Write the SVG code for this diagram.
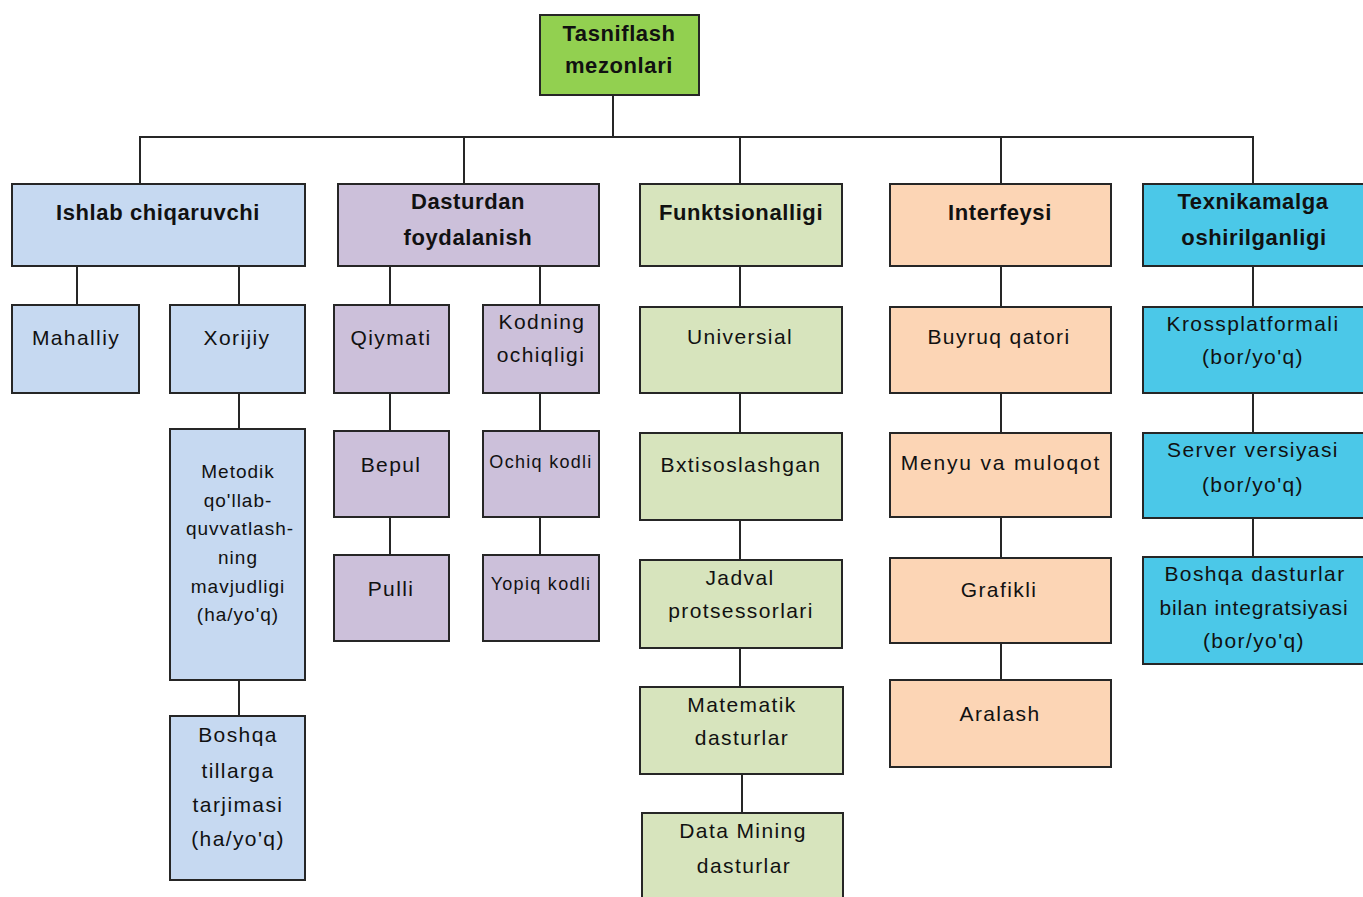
<svg xmlns="http://www.w3.org/2000/svg" width="1363" height="897" viewBox="0 0 1363 897">
<style>
rect{stroke:#262626;stroke-width:2}
.blue{fill:#C6D9F1}.purple{fill:#CCC0DA}.green{fill:#D7E4BD}.peach{fill:#FCD5B5}.cyan{fill:#4BC8E8}.root{fill:#92D050}
text{font-family:"Liberation Sans",Arial,sans-serif;text-anchor:middle;fill:#111}
.h{font-weight:bold;font-size:22px;letter-spacing:0.6px}
.t{font-size:21px;letter-spacing:1.4px}
.s{font-size:19px;letter-spacing:1px}
.k{font-size:18px;letter-spacing:1.3px}
#connectors line{stroke:#262626;stroke-width:2}
</style>
<rect x="0" y="0" width="1363" height="897" fill="#fff" style="stroke:none"/>
<g id="connectors">
<line x1="613" y1="95" x2="613" y2="137"/>
<line x1="139" y1="137" x2="1254" y2="137"/>
<line x1="140" y1="137" x2="140" y2="184"/>
<line x1="464" y1="137" x2="464" y2="184"/>
<line x1="740" y1="137" x2="740" y2="184"/>
<line x1="1001" y1="137" x2="1001" y2="184"/>
<line x1="1253" y1="137" x2="1253" y2="184"/>
<line x1="77" y1="266" x2="77" y2="305"/>
<line x1="239" y1="266" x2="239" y2="305"/>
<line x1="239" y1="393" x2="239" y2="429"/>
<line x1="239" y1="680" x2="239" y2="716"/>
<line x1="390" y1="266" x2="390" y2="305"/>
<line x1="540" y1="266" x2="540" y2="305"/>
<line x1="390" y1="393" x2="390" y2="431"/>
<line x1="390" y1="517" x2="390" y2="555"/>
<line x1="540" y1="393" x2="540" y2="431"/>
<line x1="540" y1="517" x2="540" y2="555"/>
<line x1="740" y1="266" x2="740" y2="307"/>
<line x1="740" y1="393" x2="740" y2="433"/>
<line x1="740" y1="520" x2="740" y2="560"/>
<line x1="740" y1="648" x2="740" y2="687"/>
<line x1="742" y1="774" x2="742" y2="813"/>
<line x1="1001" y1="266" x2="1001" y2="307"/>
<line x1="1001" y1="393" x2="1001" y2="433"/>
<line x1="1001" y1="517" x2="1001" y2="558"/>
<line x1="1001" y1="643" x2="1001" y2="680"/>
<line x1="1253" y1="266" x2="1253" y2="307"/>
<line x1="1253" y1="393" x2="1253" y2="433"/>
<line x1="1253" y1="518" x2="1253" y2="557"/>
</g>
<g id="root"><rect class="root" x="540" y="15" width="159" height="80"/><text class="h" x="619" y="41">Tasniflash</text><text class="h" x="619" y="73">mezonlari</text></g>

<g id="ishlab"><rect class="blue" x="12" y="184" width="293" height="82"/><text class="h" x="158" y="220">Ishlab chiqaruvchi</text></g>
<g id="mahalliy"><rect class="blue" x="12" y="305" width="127" height="88"/><text class="t" x="76" y="345">Mahalliy</text></g>
<g id="xorijiy"><rect class="blue" x="170" y="305" width="135" height="88"/><text class="t" x="237" y="345">Xorijiy</text></g>
<g id="metodik"><rect class="blue" x="170" y="429" width="135" height="251"/>
<text class="s" x="238" y="478">Metodik</text><text class="s" x="238" y="507">qo'llab-</text><text class="s" x="240" y="535">quvvatlash-</text><text class="s" x="238" y="564">ning</text><text class="s" x="238" y="593">mavjudligi</text><text class="s" x="238" y="621">(ha/yo'q)</text></g>
<g id="tarjima"><rect class="blue" x="170" y="716" width="135" height="164"/>
<text class="t" x="238" y="742">Boshqa</text><text class="t" x="238" y="778">tillarga</text><text class="t" x="238" y="812">tarjimasi</text><text class="t" x="238" y="846">(ha/yo'q)</text></g>

<g id="dasturdan"><rect class="purple" x="338" y="184" width="261" height="82"/><text class="h" x="468" y="209">Dasturdan</text><text class="h" x="468" y="245">foydalanish</text></g>
<g id="qiymati"><rect class="purple" x="334" y="305" width="115" height="88"/><text class="t" x="391" y="345">Qiymati</text></g>
<g id="kodning"><rect class="purple" x="483" y="305" width="116" height="88"/><text class="t" x="542" y="329">Kodning</text><text class="t" x="541" y="362">ochiqligi</text></g>
<g id="bepul"><rect class="purple" x="334" y="431" width="115" height="86"/><text class="t" x="391" y="472">Bepul</text></g>
<g id="pulli"><rect class="purple" x="334" y="555" width="115" height="86"/><text class="t" x="391" y="596">Pulli</text></g>
<g id="ochiq"><rect class="purple" x="483" y="431" width="116" height="86"/><text class="k" x="541" y="468">Ochiq kodli</text></g>
<g id="yopiq"><rect class="purple" x="483" y="555" width="116" height="86"/><text class="k" x="541" y="590">Yopiq kodli</text></g>

<g id="funk"><rect class="green" x="640" y="184" width="202" height="82"/><text class="h" x="741" y="220">Funktsionalligi</text></g>
<g id="universial"><rect class="green" x="640" y="307" width="202" height="86"/><text class="t" x="740" y="344">Universial</text></g>
<g id="bxtis"><rect class="green" x="640" y="433" width="202" height="87"/><text class="t" x="741" y="472">Bxtisoslashgan</text></g>
<g id="jadval"><rect class="green" x="640" y="560" width="202" height="88"/><text class="t" x="740" y="585">Jadval</text><text class="t" x="741" y="618">protsessorlari</text></g>
<g id="matematik"><rect class="green" x="640" y="687" width="203" height="87"/><text class="t" x="742" y="712">Matematik</text><text class="t" x="742" y="745">dasturlar</text></g>
<g id="datamining"><rect class="green" x="642" y="813" width="201" height="95"/><text class="t" x="743" y="838">Data Mining</text><text class="t" x="744" y="873">dasturlar</text></g>

<g id="interfeys"><rect class="peach" x="890" y="184" width="221" height="82"/><text class="h" x="1000" y="220">Interfeysi</text></g>
<g id="buyruq"><rect class="peach" x="890" y="307" width="221" height="86"/><text class="t" x="999" y="344">Buyruq qatori</text></g>
<g id="menyu"><rect class="peach" x="890" y="433" width="221" height="84"/><text class="t" x="1001" y="470" style="letter-spacing:1.8px">Menyu va muloqot</text></g>
<g id="grafikli"><rect class="peach" x="890" y="558" width="221" height="85"/><text class="t" x="999" y="597">Grafikli</text></g>
<g id="aralash"><rect class="peach" x="890" y="680" width="221" height="87"/><text class="t" x="1000" y="721">Aralash</text></g>

<g id="texnik"><rect class="cyan" x="1143" y="184" width="230" height="82"/><text class="h" x="1253" y="209">Texnikamalga</text><text class="h" x="1254" y="245">oshirilganligi</text></g>
<g id="kross"><rect class="cyan" x="1143" y="307" width="230" height="86"/><text class="t" x="1253" y="331">Krossplatformali</text><text class="t" x="1253" y="364">(bor/yo'q)</text></g>
<g id="server"><rect class="cyan" x="1143" y="433" width="230" height="85"/><text class="t" x="1253" y="457">Server versiyasi</text><text class="t" x="1253" y="492">(bor/yo'q)</text></g>
<g id="integr"><rect class="cyan" x="1143" y="557" width="230" height="107"/><text class="t" x="1255" y="581">Boshqa dasturlar</text><text class="t" x="1254" y="615" style="letter-spacing:0.8px">bilan integratsiyasi</text><text class="t" x="1254" y="648">(bor/yo'q)</text></g>
</svg>
